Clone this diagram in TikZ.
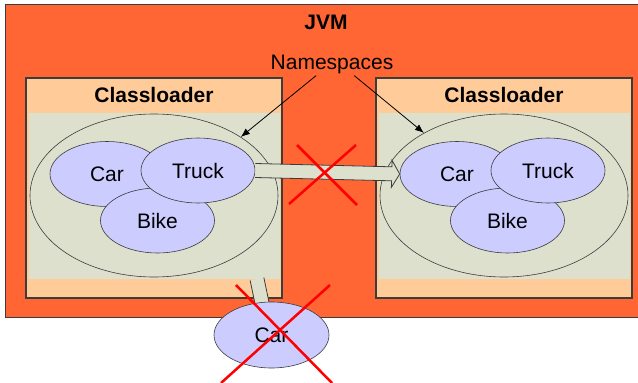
\documentclass[tikz,border=0pt]{standalone}
\usepackage{fontspec}
\setmainfont{Liberation Sans}
\usetikzlibrary{arrows.meta,calc,shapes.geometric}
\definecolor{jvmorange}{RGB}{255,102,51}
\definecolor{loaderpeach}{RGB}{255,204,153}
\definecolor{nsgreen}{RGB}{221,224,204}
\definecolor{classblue}{RGB}{204,204,255}
\definecolor{edgegray}{RGB}{60,60,60}

% wide hollow arrow from #1 to the tip #2
\newcommand{\blockarrow}[2]{%
  \coordinate (ba-h) at ($(#2)!8pt!(#1)$);
  \coordinate (ba-s1) at ($(#1)!7pt!90:(#2)$);
  \coordinate (ba-s2) at ($(#1)!7pt!-90:(#2)$);
  \coordinate (ba-h1) at ($(ba-h)!7pt!-90:(#1)$);
  \coordinate (ba-h2) at ($(ba-h)!7pt!90:(#1)$);
  \coordinate (ba-w1) at ($(ba-h)!13.5pt!-90:(#1)$);
  \coordinate (ba-w2) at ($(ba-h)!13.5pt!90:(#1)$);
  \fill[nsgreen] (ba-s1) -- (ba-h1) -- (ba-w1) -- (#2) -- (ba-w2) -- (ba-h2) -- (ba-s2) -- cycle;
  \draw[edgegray, line width=0.8pt, line join=miter]
    (ba-s1) -- (ba-h1) -- (ba-w1) -- (#2) -- (ba-w2) -- (ba-h2) -- (ba-s2);
}

\begin{document}
\begin{tikzpicture}[x=1pt, y=-1pt,
    every node/.style={font=\fontsize{21}{25}\selectfont},
    title/.style={font=\fontsize{21}{25}\selectfont\bfseries},
    loaderbox/.style={draw=edgegray, fill=loaderpeach, line width=1.2pt},
    cls/.style={ellipse, draw=edgegray, fill=classblue, line width=0.6pt,
                minimum width=114pt, minimum height=65pt, inner sep=0pt},
    nsbox/.style={ellipse, draw=edgegray, fill=nsgreen, line width=0.6pt,
                  minimum width=248pt, minimum height=163pt},
    nogo/.style={red, line width=2.5pt}]
  \useasboundingbox (0,0) rectangle (638,383);

  % JVM frame
  \draw[draw=edgegray, fill=jvmorange, line width=0.8pt] (5,4) rectangle (660,317);
  \node[title] (jvm) at (326,22.5) {JVM};

  % two classloaders, each with its namespace
  \foreach \dx/\n in {0/1,350/2} {
    \begin{scope}[xshift=\dx]
      \draw[loaderbox] (26,78) rectangle (282,298);
      \node[title] (loader\n) at (154,95) {Classloader};
      \fill[nsgreen] (29,113) rectangle (280,279);
      \coordinate (inner\n) at (29,279);
      \node[nsbox] (ns\n) at (154,195.5) {};
      \node[cls] (c\n) at (107,174) {Car};
      \node[cls] (b\n) at (157.5,220.5) {Bike};
      \node[cls] (t\n) at (198,170.5) {Truck};
    \end{scope}
  }

  % namespace pointers
  \node[inner sep=2pt] (nslabel) at (332,64) {Namespaces};
  \draw[-{Latex[length=9pt,width=7pt]}, line width=0.8pt]
    ($(nslabel.south)!.25!(nslabel.south west)$) -- (ns1.34);
  \draw[-{Latex[length=9pt,width=7pt]}, line width=0.8pt]
    ($(nslabel.south)!.35!(nslabel.south east)$) -- (ns2.142);

  % class passed across loaders
  \blockarrow{t1.east}{c2.west}

  % class leaving the JVM
  \coordinate (exit) at ($(inner1)+(228,0)$);
  \coordinate (lost) at (266,322);
  \blockarrow{exit}{lost}
  \node[cls, minimum width=115pt, minimum height=66pt] (c3) at (271.5,335) {Car};

  % crossed out
  \draw[nogo] (297,145) -- (357,205);
  \draw[nogo] (356,145) -- (289,204);
  \draw[nogo] (236,285) -- (332,383);
  \draw[nogo] (330,285) -- (221,383);
\end{tikzpicture}
\end{document}
